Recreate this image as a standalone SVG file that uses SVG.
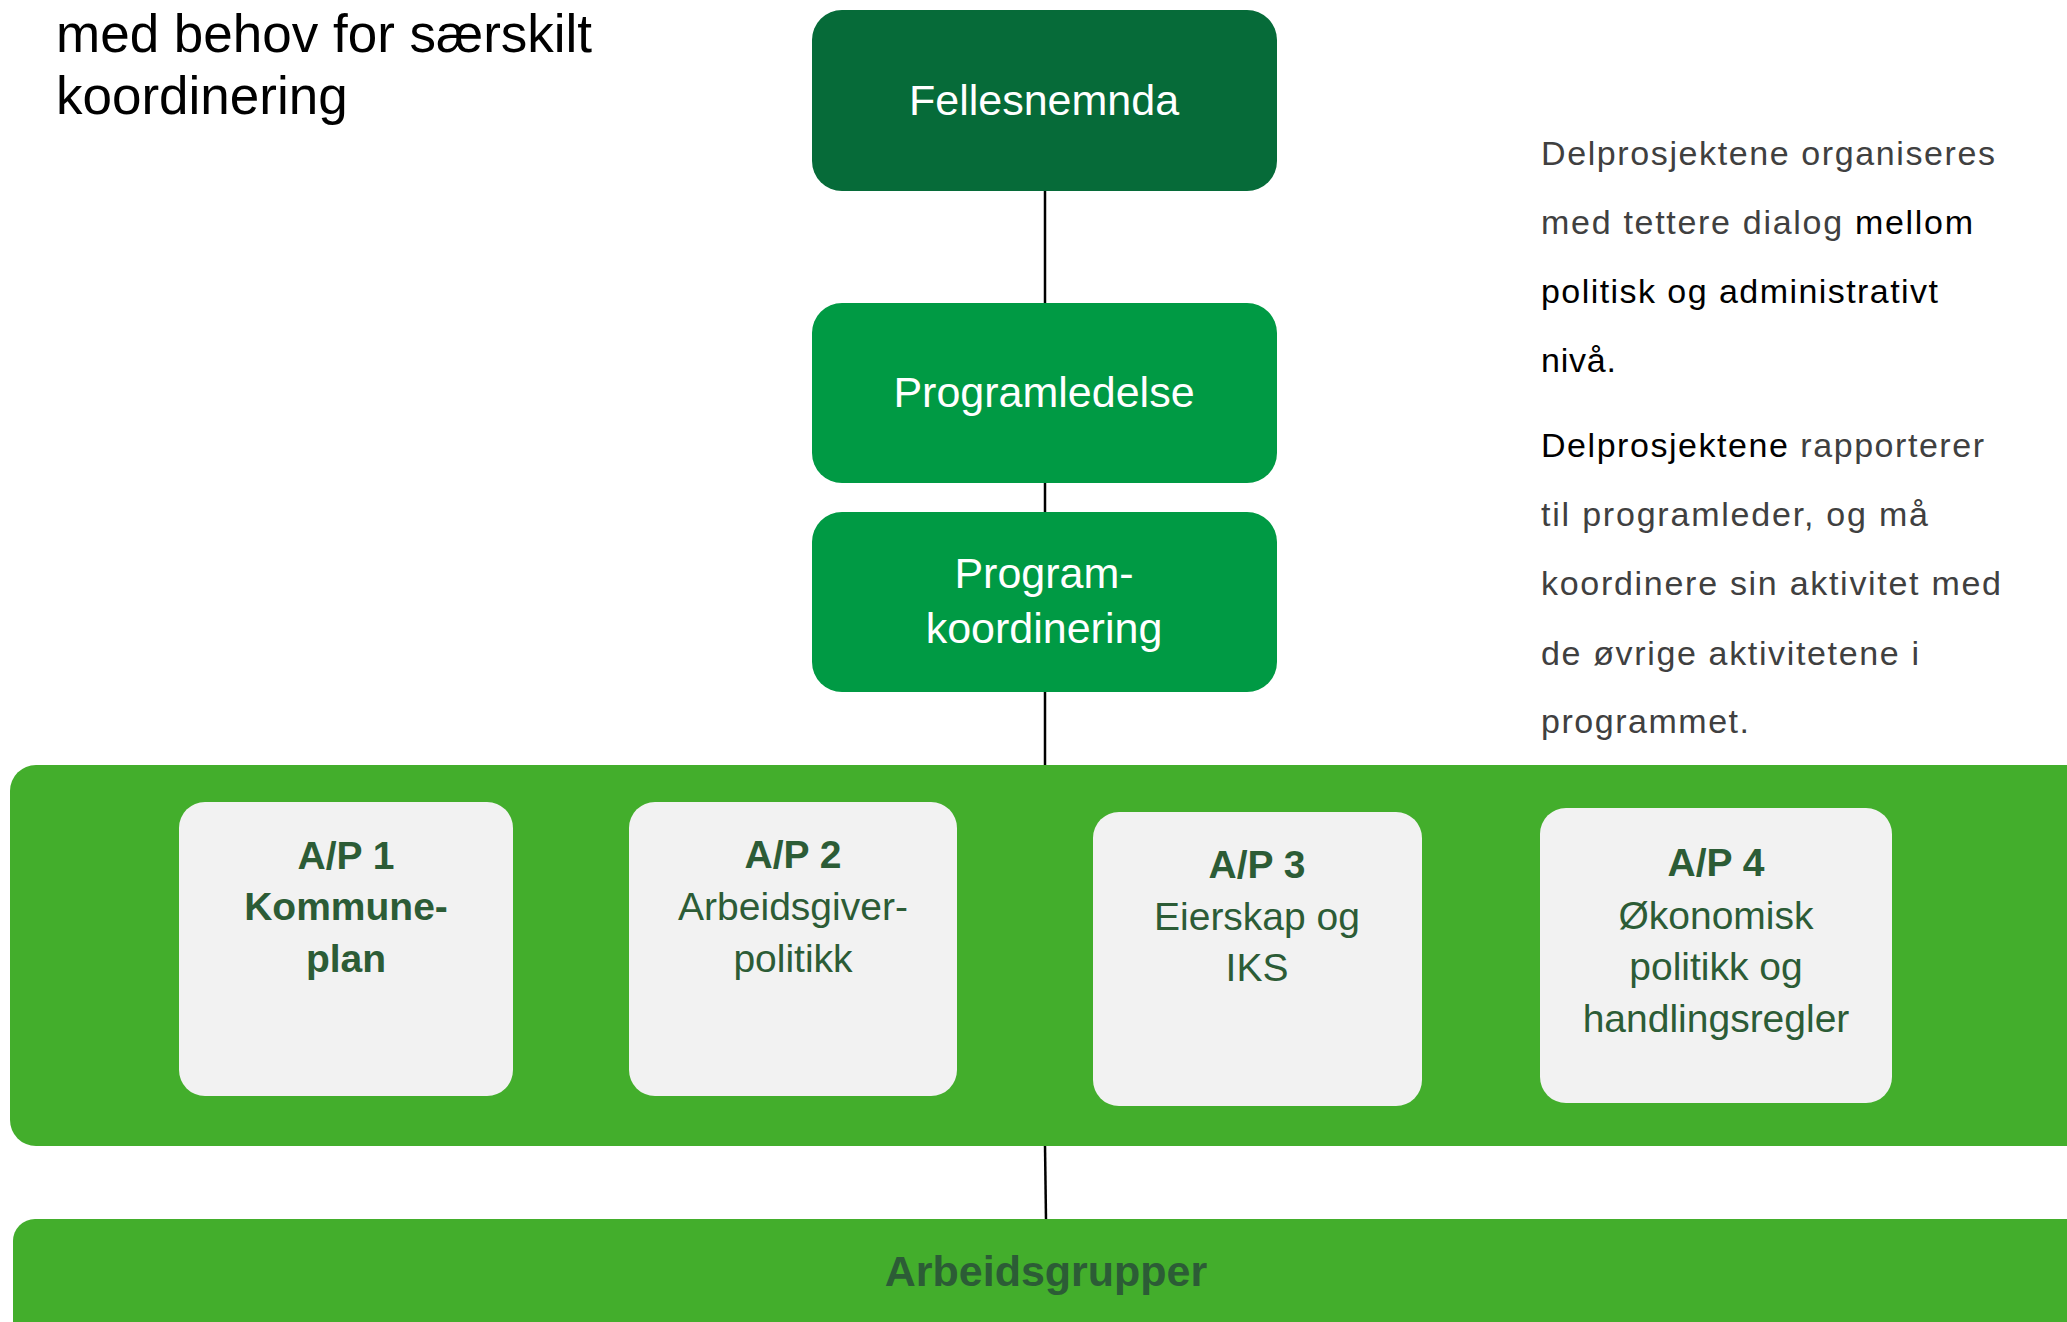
<svg xmlns="http://www.w3.org/2000/svg" width="2067" height="1322" viewBox="0 0 2067 1322">
<style>
text{font-family:"Liberation Sans",Arial,sans-serif}
.title{font-size:53px;fill:#000}
.top{font-size:43px;fill:#fff;text-anchor:middle}
.side{font-size:34px;fill:#404040}
.blk{fill:#000}
.ap{font-size:39px;fill:#2c5c36;text-anchor:middle}
.b{font-weight:bold}
.apbox{fill:#f2f2f2}
.conn{stroke:#000;stroke-width:2.5;fill:none}
</style>
<rect width="2067" height="1322" fill="#fff"/>
<g id="title">
<text class="title" x="56" y="52">med behov for særskilt</text>
<text class="title" x="56" y="114">koordinering</text>
</g>
<g id="connectors">
<line class="conn" x1="1045" y1="190" x2="1045" y2="304"/>
<line class="conn" x1="1045" y1="482" x2="1045" y2="513"/>
<line class="conn" x1="1045" y1="691" x2="1045" y2="766"/>
<line class="conn" x1="1045" y1="1145" x2="1046" y2="1220"/>
</g>
<g id="fellesnemnda">
<rect x="812" y="10" width="465" height="181" rx="30" fill="#066b39"/>
<text class="top" x="1044" y="115">Fellesnemnda</text>
</g>
<g id="programledelse">
<rect x="812" y="303" width="465" height="180" rx="30" fill="#009a44"/>
<text class="top" x="1044" y="407">Programledelse</text>
</g>
<g id="programkoordinering">
<rect x="812" y="512" width="465" height="180" rx="30" fill="#009a44"/>
<text class="top" x="1044" y="588">Program-</text>
<text class="top" x="1044" y="643">koordinering</text>
</g>
<g id="side-text">
<text class="side" x="1541" y="165" textLength="454" lengthAdjust="spacing">Delprosjektene organiseres</text>
<text class="side" x="1541" y="234" textLength="432" lengthAdjust="spacing">med tettere dialog <tspan class="blk">mellom</tspan></text>
<text class="side blk" x="1541" y="303" textLength="397" lengthAdjust="spacing">politisk og administrativt</text>
<text class="side blk" x="1541" y="372" textLength="75" lengthAdjust="spacing">nivå.</text>
<text class="side" x="1541" y="457" textLength="443" lengthAdjust="spacing"><tspan class="blk">Delprosjektene</tspan> rapporterer</text>
<text class="side" x="1541" y="526" textLength="387" lengthAdjust="spacing">til programleder, og må</text>
<text class="side" x="1541" y="595" textLength="460" lengthAdjust="spacing">koordinere sin aktivitet med</text>
<text class="side" x="1541" y="665" textLength="378" lengthAdjust="spacing">de øvrige aktivitetene i</text>
<text class="side" x="1541" y="733" textLength="208" lengthAdjust="spacing">programmet.</text>
</g>
<g id="delprosjekter">
<rect x="10" y="765" width="2100" height="381" rx="26" fill="#43ae2c"/>
</g>
<g id="ap1">
<rect class="apbox" x="179" y="802" width="334" height="294" rx="26"/>
<text class="ap b" x="346" y="869">A/P 1</text>
<text class="ap b" x="346" y="920">Kommune-</text>
<text class="ap b" x="346" y="972">plan</text>
</g>
<g id="ap2">
<rect class="apbox" x="629" y="802" width="328" height="294" rx="26"/>
<text class="ap b" x="793" y="868">A/P 2</text>
<text class="ap" x="793" y="920">Arbeidsgiver-</text>
<text class="ap" x="793" y="972">politikk</text>
</g>
<g id="ap3">
<rect class="apbox" x="1093" y="812" width="329" height="294" rx="26"/>
<text class="ap b" x="1257" y="878">A/P 3</text>
<text class="ap" x="1257" y="930">Eierskap og</text>
<text class="ap" x="1257" y="981">IKS</text>
</g>
<g id="ap4">
<rect class="apbox" x="1540" y="808" width="352" height="295" rx="26"/>
<text class="ap b" x="1716" y="876">A/P 4</text>
<text class="ap" x="1716" y="929">Økonomisk</text>
<text class="ap" x="1716" y="980">politikk og</text>
<text class="ap" x="1716" y="1032">handlingsregler</text>
</g>
<g id="arbeidsgrupper">
<rect x="13" y="1219" width="2100" height="200" rx="22" fill="#43ae2c"/>
<text class="b" x="1046" y="1286" font-size="43" fill="#2c5c36" text-anchor="middle">Arbeidsgrupper</text>
</g>
</svg>
